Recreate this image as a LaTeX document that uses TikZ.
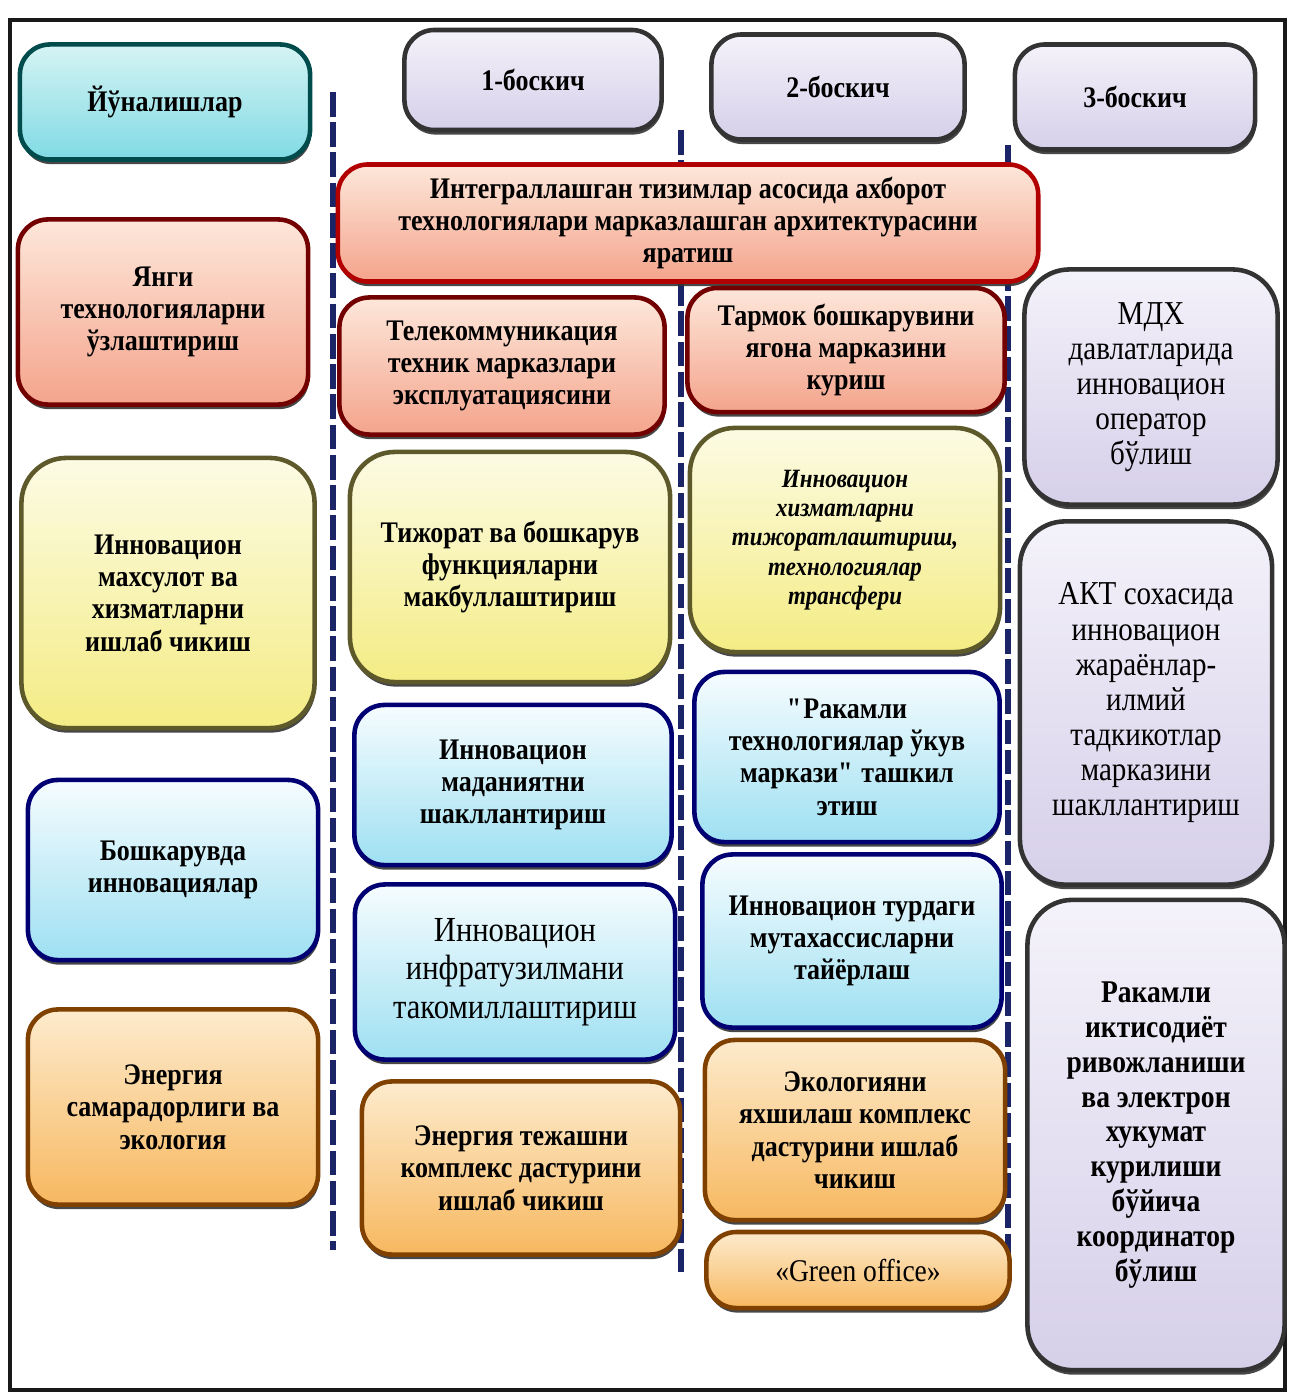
\documentclass[tikz,border=0pt]{standalone}
\usepackage{fontspec}
\setmainfont{Liberation Serif}[FakeStretch=0.87]
\usepackage{tikz}
\usetikzlibrary{shadows}

\definecolor{navyline}{HTML}{1B2466}
\definecolor{cyantop}{HTML}{D6F4F4}
\definecolor{cyanbot}{HTML}{80DAE4}
\definecolor{redtop}{HTML}{FDE7DA}
\definecolor{redbot}{HTML}{F4A48C}
\definecolor{yeltop}{HTML}{FCFBE4}
\definecolor{yelbot}{HTML}{F4EC84}
\definecolor{bluetop}{HTML}{F6FCFE}
\definecolor{bluebot}{HTML}{9EE0F2}
\definecolor{orgtop}{HTML}{FDEBCD}
\definecolor{orgbot}{HTML}{F7B860}
\definecolor{lavtop}{HTML}{F4F2FA}
\definecolor{lavbot}{HTML}{D6CFE9}

\begin{document}
\begin{tikzpicture}[
      x=0.01cm, y=-0.01cm,
      box/.style={draw=black!85, line width=1.3pt, rounded corners=0.3cm, align=center,
        inner sep=2pt, font=\fontsize{8.5}{9.2}\selectfont\bfseries,
        drop shadow={shadow xshift=0.3pt, shadow yshift=-1.3pt, fill=black!80, opacity=0.9}},
      stage/.style={box, draw=black!80, top color=lavtop, bottom color=lavbot},
      cyan cell/.style={box, draw=teal!60!black, top color=cyantop, bottom color=cyanbot},
      red cell/.style={box, draw=red!45!black, top color=redtop, bottom color=redbot},
      yellow cell/.style={box, draw=olive!55!black, top color=yeltop, bottom color=yelbot},
      blue cell/.style={box, draw=blue!45!black, top color=bluetop, bottom color=bluebot},
      orange cell/.style={box, draw=orange!50!black, top color=orgtop, bottom color=orgbot},
      lav cell/.style={box, draw=black!80, top color=lavtop, bottom color=lavbot, rounded corners=0.45cm},
      divider/.style={draw=navyline, line width=1.7pt, dash pattern=on 7pt off 1.6pt},
      frame/.style={draw=black!90, line width=1.3pt}
      ]
      \useasboundingbox (0,0) rectangle (1292,1397);
      % frame
      \draw [frame] (10,20) rectangle (1285,1390);
      % dividers
      \draw [divider] (333,92) -- (333,1250);
      \draw [divider] (681,130) -- (681,1272);
      \draw [divider] (1008,145) -- (1008,1265);
      % heads
      \node [cyan cell, minimum width=2.9cm, minimum height=1.15cm] (dirs) at (165,102) {Йўналишлар};
      \node [stage, minimum width=2.57cm, minimum height=1cm] (stage1) at (533,80) {1-боскич};
      \node [stage, minimum width=2.53cm, minimum height=1.05cm] (stage2) at (838,87) {2-боскич};
      \node [stage, minimum width=2.4cm, minimum height=1.05cm] (stage3) at (1135,97) {3-боскич};
      % directions
      \node [red cell, minimum width=2.9cm, minimum height=1.85cm] (newtech) at (163,312)
        {Янги\\технологияларни\\ўзлаштириш};
      \node [yellow cell, rounded corners=0.45cm, minimum width=2.93cm, minimum height=2.7cm] (product) at (168,593)
        {Инновацион\\махсулот ва\\хизматларни\\ишлаб чикиш};
      \node [blue cell, minimum width=2.9cm, minimum height=1.8cm] (manage) at (173,870)
        {Бошкарувда\\инновациялар};
      \node [orange cell, minimum width=2.9cm, minimum height=1.95cm] (energy) at (173,1107)
        {Энергия\\самарадорлиги ва\\экология};
      % stage 1
      \node [red cell, draw=red!70!black, minimum width=7cm, minimum height=1.17cm] (integ) at (688,223)
        {Интеграллашган тизимлар асосида ахборот\\технологиялари марказлашган архитектурасини\\яратиш};
      \node [red cell, minimum width=3.25cm, minimum height=1.37cm] (telecom) at (502,366)
        {Телекоммуникация\\техник марказлари\\эксплуатациясини};
      \node [yellow cell, rounded corners=0.45cm, minimum width=3.2cm, minimum height=2.3cm] (trade) at (510,567)
        {Тижорат ва бошкарув\\функцияларни\\макбуллаштириш};
      \node [blue cell, minimum width=3.17cm, minimum height=1.6cm] (culture) at (513,785)
        {Инновацион\\маданиятни\\шакллантириш};
      \node [blue cell, font=\fontsize{10}{11}\selectfont, minimum width=3.2cm, minimum height=1.75cm] (infra) at (515,972)
        {Инновацион\\инфратузилмани\\такомиллаштириш};
      \node [orange cell, minimum width=3.18cm, minimum height=1.73cm] (saving) at (521,1168)
        {Энергия тежашни\\комплекс дастурини\\ишлаб чикиш};
      % stage 2
      \node [red cell, minimum width=3.17cm, minimum height=1.24cm] (network) at (846,350)
        {Тармок бошкарувини\\ягона марказини\\куриш};
      \node [yellow cell, rounded corners=0.45cm, font=\fontsize{7.5}{8.3}\selectfont\bfseries\itshape,
        minimum width=3.1cm, minimum height=2.24cm] (services) at (845,540)
        {Инновацион\\хизматларни\\тижоратлаштириш,\\технологиялар\\трансфери};
      \node [blue cell, minimum width=3.05cm, minimum height=1.7cm] (hub) at (847,757)
        {\textquotedbl Ракамли\\технологиялар ўкув\\маркази\textquotedbl{} ташкил\\этиш};
      \node [blue cell, minimum width=2.99cm, minimum height=1.73cm] (experts) at (852,941)
        {Инновацион турдаги\\мутахассисларни\\тайёрлаш};
      \node [orange cell, minimum width=3cm, minimum height=1.8cm] (ecology) at (855,1130)
        {Экологияни\\яхшилаш комплекс\\дастурини ишлаб\\чикиш};
      \node [orange cell, font=\fontsize{9}{10}\selectfont, minimum width=3.03cm, minimum height=0.76cm] (green) at (858,1270)
        {«Green office»};
      % stage 3
      \node [lav cell, font=\fontsize{9.5}{10}\selectfont, minimum width=2.53cm, minimum height=2.35cm] (cis) at (1151,387)
        {МДХ\\давлатларида\\инновацион\\оператор\\бўлиш};
      \node [lav cell, font=\fontsize{9.5}{10}\selectfont, minimum width=2.52cm, minimum height=3.63cm] (ict) at (1146,703)
        {АКТ сохасида\\инновацион\\жараёнлар-\\илмий\\тадкикотлар\\марказини\\шакллантириш};
      \node [lav cell, font=\fontsize{9}{9.9}\selectfont\bfseries, minimum width=2.57cm, minimum height=4.7cm] (econ) at (1156,1135)
        {Ракамли\\иктисодиёт\\ривожланиши\\ва электрон\\хукумат\\курилиши\\бўйича\\координатор\\бўлиш};
    \end{tikzpicture}
\end{document}
